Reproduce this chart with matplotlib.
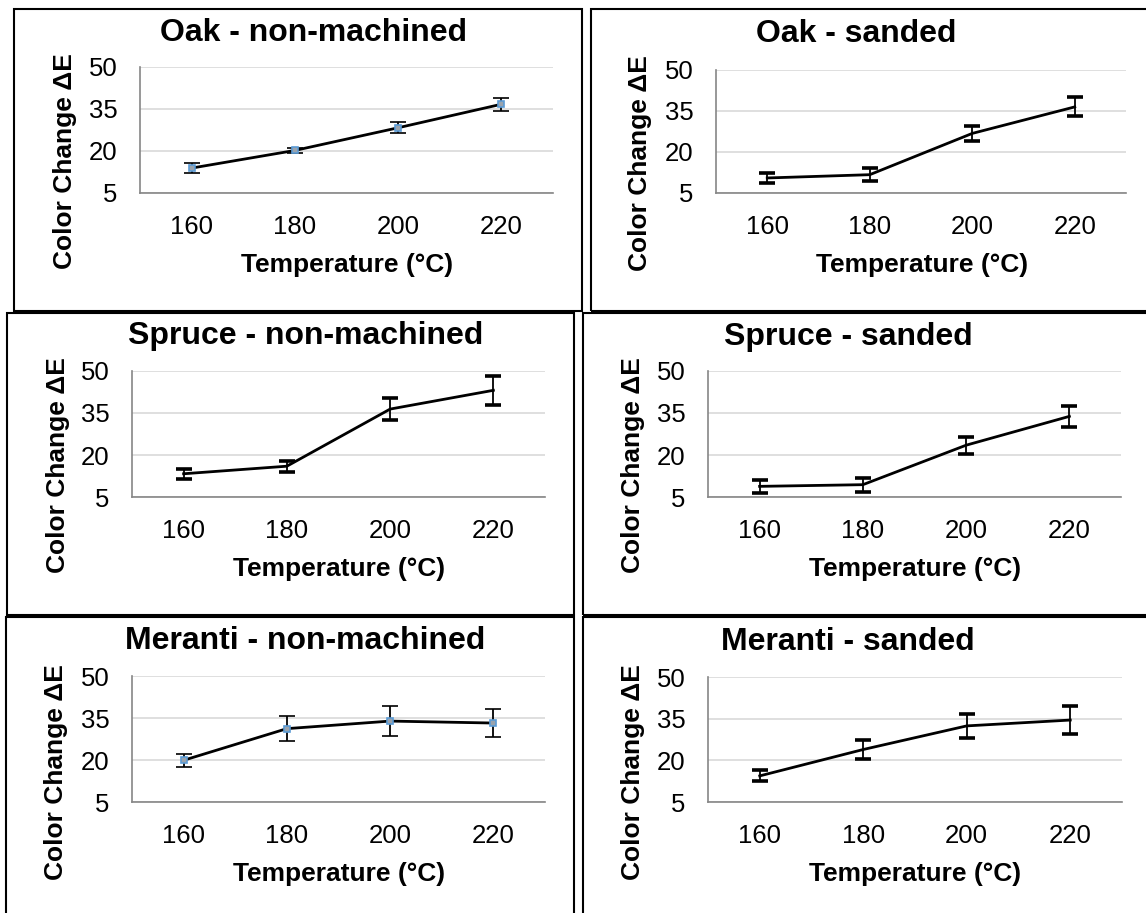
import matplotlib
matplotlib.use("Agg")
import matplotlib.pyplot as plt
from matplotlib.patches import Rectangle

plt.rcParams['font.family'] = ['Liberation Sans', 'DejaVu Sans']

W, H = 1146, 913

# data
temps = ['160', '180', '200', '220']
yticks = [5, 20, 35, 50]

titles = ['Oak - non-machined', 'Oak - sanded',
          'Spruce - non-machined', 'Spruce - sanded',
          'Meranti - non-machined', 'Meranti - sanded']

oak_nm = [13.9, 20.2, 28.3, 36.7]
oak_nm_err = [1.8, 0.8, 1.9, 2.4]
oak_s = [10.5, 11.7, 26.8, 36.5]
oak_s_err = [1.8, 2.4, 2.7, 3.5]
spruce_nm = [13.3, 16.0, 36.4, 43.1]
spruce_nm_err = [1.7, 2.0, 3.8, 5.2]
spruce_s = [8.8, 9.4, 23.5, 33.8]
spruce_s_err = [2.4, 2.5, 3.0, 3.8]
meranti_nm = [19.9, 31.2, 33.9, 33.2]
meranti_nm_err = [2.3, 4.5, 5.4, 5.0]
meranti_s = [14.4, 23.9, 32.4, 34.5]
meranti_s_err = [2.0, 3.5, 4.3, 4.9]

series = [oak_nm, oak_s, spruce_nm, spruce_s, meranti_nm, meranti_s]
errors = [oak_nm_err, oak_s_err, spruce_nm_err, spruce_s_err, meranti_nm_err, meranti_s_err]

# layout in pixels (left, top, right, bottom)
plot_rects = [(140, 67, 553, 193), (716, 70, 1126, 193),
              (132, 371, 545, 497), (708, 371, 1121, 497),
              (132, 676, 545, 802), (708, 677, 1122, 802)]
boxes = [(14, 9, 582, 311), (591, 9, 1152, 311),
         (7, 313, 574, 615), (583, 313, 1152, 615),
         (6, 617, 574, 920), (583, 617, 1152, 920)]
title_pos = [(313, 33), (856, 34), (306, 336), (848, 337), (305, 641), (848, 642)]
ylabel_pos = [(65, 161), (640, 163), (58, 465), (633, 465), (56, 772), (633, 772)]
xlabel_pos = [(347, 265), (922, 265), (339, 569), (915, 569), (339, 874), (915, 874)]
show_markers = [True, False, False, False, True, False]

fig = plt.figure(figsize=(W / 100, H / 100), dpi=100)

for (l, t, r, b) in boxes:
    fig.add_artist(Rectangle((l / W, 1 - b / H), (r - l) / W, (b - t) / H,
                             transform=fig.transFigure, fill=False,
                             edgecolor='black', linewidth=1.5))

x = list(range(len(temps)))
for i in range(6):
    l, t, r, b = plot_rects[i]
    ax = fig.add_axes([l / W, 1 - b / H, (r - l) / W, (b - t) / H])
    mk = dict(marker='s', markersize=5, markerfacecolor='#9aa3ad',
              markeredgecolor='#5b9bd5', markeredgewidth=1.2) if show_markers[i] else dict(marker=None)
    ax.errorbar(x, series[i], yerr=errors[i], color='black', linewidth=2,
                ecolor='black', elinewidth=1.3, capsize=5.5, capthick=2.6,
                zorder=3, **mk)
    ax.set_xlim(-0.5, 3.5)
    ax.set_ylim(5, 50)
    ax.set_yticks(yticks)
    ax.set_xticks(x)
    ax.set_xticklabels(temps)
    ax.grid(axis='y', color='#d9d9d9', linewidth=1.2)
    ax.set_axisbelow(True)
    for s in ['top', 'right']:
        ax.spines[s].set_visible(False)
    ax.spines['left'].set_color('#868686')
    ax.spines['bottom'].set_color('#868686')
    ax.spines['left'].set_linewidth(1.2)
    ax.spines['bottom'].set_linewidth(1.2)
    ax.tick_params(axis='y', length=0, labelsize=18.5, pad=16)
    ax.tick_params(axis='x', length=0, labelsize=18.5, pad=16)

    tx, ty = title_pos[i]
    fig.text(tx / W, 1 - ty / H, titles[i], ha='center', va='center',
             fontsize=23, fontweight='bold')
    yx, yy = ylabel_pos[i]
    fig.text(yx / W, 1 - yy / H, 'Color Change ΔE', ha='center', va='center',
             rotation=90, fontsize=19, fontweight='bold')
    xx, xy = xlabel_pos[i]
    fig.text(xx / W, 1 - xy / H, 'Temperature (°C)', ha='center', va='center',
             fontsize=19, fontweight='bold')

fig.savefig('out.png', dpi=100)
